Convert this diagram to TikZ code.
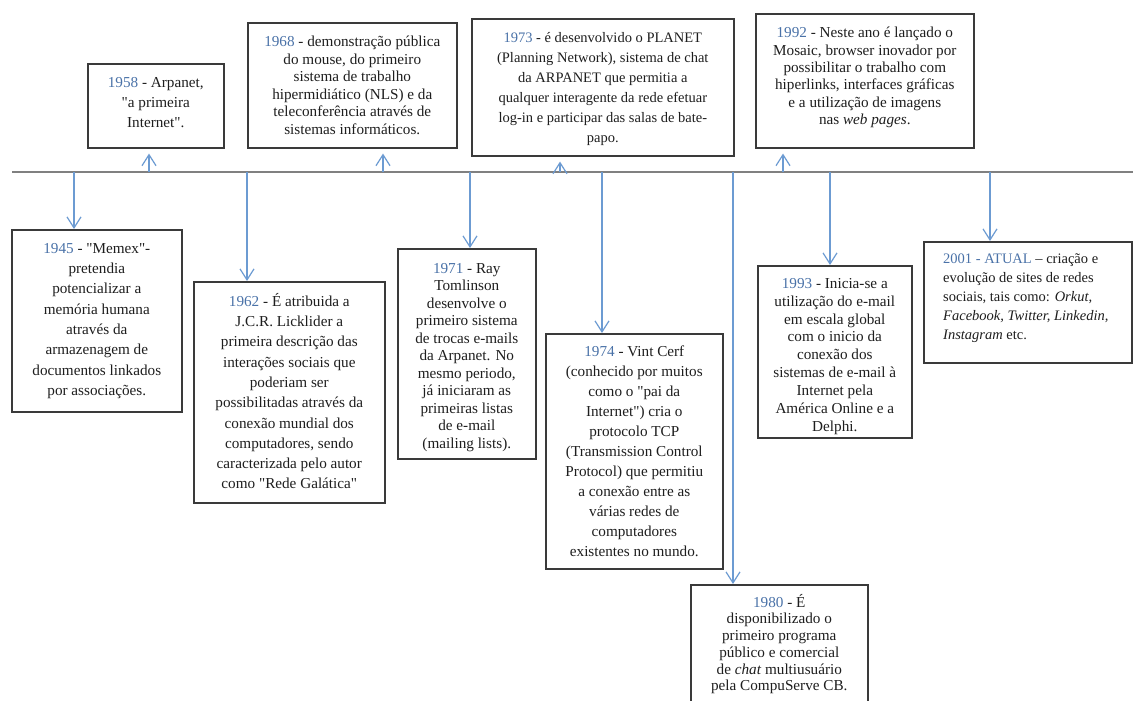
\documentclass[tikz,border=0pt]{standalone}
\usepackage{fontspec}
\newfontfamily\tnr{Liberation Serif}
\usetikzlibrary{arrows.meta}
\definecolor{yr}{HTML}{4A72A8}
\definecolor{arrc}{HTML}{6C9BD2}
\definecolor{tlc}{HTML}{808080}
\definecolor{boxc}{HTML}{3A3A3A}
\definecolor{txtc}{HTML}{1E1E1E}
\begin{document}
\begin{tikzpicture}[x=1pt,y=-1pt,
  box/.style={draw=boxc, line width=1.6pt, fill=white, inner sep=0pt, anchor=north west},
  txt/.style={inner sep=0pt, align=center, text=txtc, anchor=north, font=\tnr\fontsize{15.2}{18.5}\selectfont},
  lsp/.style={font=\tnr\fontsize{15.2}{#1}\selectfont},
  lsps/.style={font=\tnr\fontsize{14.5}{#1}\selectfont},
  arr/.style={draw=arrc, line width=1.2pt, -{Straight Barb[length=11pt,width=14pt,line width=1.2pt]}},
  uparr/.style={arr, shorten >=5pt},
  tline/.style={draw=tlc, line width=2.2pt}]
\clip (0,0) rectangle (1133,701);
\fill[white] (0,0) rectangle (1133,701);

% timeline
\coordinate (tl0) at (12,172);
\coordinate (tl1) at (1133,172);
\draw[tline] (tl0) -- (tl1);

% timeline anchor points
\coordinate (t45) at (74,172);
\coordinate (t58) at (149,172);
\coordinate (t62) at (247,172);
\coordinate (t68) at (383,172);
\coordinate (t71) at (470,172);
\coordinate (t73) at (560,172);
\coordinate (t74) at (602,172);
\coordinate (t80) at (733,172);
\coordinate (t92) at (783,172);
\coordinate (t93) at (830,172);
\coordinate (t01) at (990,172);

% boxes
\node[box, minimum width=170pt, minimum height=182pt] (b45) at (11,229) {};
\node[box, minimum width=136pt, minimum height=84pt]  (b58) at (87,63) {};
\node[box, minimum width=191pt, minimum height=221pt] (b62) at (193,281) {};
\node[box, minimum width=209pt, minimum height=125pt] (b68) at (247,22) {};
\node[box, minimum width=138pt, minimum height=210pt] (b71) at (397,248) {};
\node[box, minimum width=262pt, minimum height=137pt] (b73) at (471,18) {};
\node[box, minimum width=177pt, minimum height=235pt] (b74) at (545,333) {};
\node[box, minimum width=177pt, minimum height=140pt] (b80) at (690,584) {};
\node[box, minimum width=218pt, minimum height=134pt] (b92) at (755,13) {};
\node[box, minimum width=154pt, minimum height=172pt] (b93) at (757,265) {};
\node[box, minimum width=208pt, minimum height=121pt] (b01) at (923,241) {};

% texts
\node[txt, lsp=20.3] (x45) at ([yshift=-14pt]b45.north) {{\color{yr}1945} - "Memex"-\\pretendia\\potencializar a\\memória humana\\através da\\armazenagem de\\documentos linkados\\por associações.};
\node[txt, lsp=20] (x58) at ([yshift=-14pt]b58.north) {{\color{yr}1958} - Arpanet,\\"a primeira\\Internet".};
\node[txt, lsp=20.3] (x62) at ([yshift=-12pt]b62.north) {{\color{yr}1962} - É atribuida a\\J.C.R. Licklider a\\primeira descrição das\\interações sociais que\\poderiam ser\\possibilitadas através da\\conexão mundial dos\\computadores, sendo\\caracterizada pelo autor\\como "Rede Galática"};
\node[txt, lsp=17.5] (x68) at ([yshift=-14pt]b68.north) {{\color{yr}1968} - demonstração pública\\do mouse, do primeiro\\sistema de trabalho\\hipermidiático (NLS) e da\\teleconferência através de\\sistemas informáticos.};
\node[txt, lsp=17.5] (x71) at ([yshift=-15pt]b71.north) {{\color{yr}1971} - Ray\\Tomlinson\\desenvolve o\\primeiro sistema\\de trocas e-mails\\da Arpanet. No\\mesmo periodo,\\já iniciaram as\\primeiras listas\\de e-mail\\(mailing lists).};
\node[txt, lsps=20] (x73) at ([yshift=-14pt]b73.north) {{\color{yr}1973} - é desenvolvido o PLANET\\(Planning Network), sistema de chat\\da ARPANET que permitia a\\qualquer interagente da rede efetuar\\log-in e participar das salas de bate-\\papo.};
\node[txt, lsp=20] (x74) at ([yshift=-13pt]b74.north) {{\color{yr}1974} - Vint Cerf\\(conhecido por muitos\\como o "pai da\\Internet") cria o\\protocolo TCP\\(Transmission Control\\Protocol) que permitiu\\a conexão entre as\\várias redes de\\computadores\\existentes no mundo.};
\node[txt, lsp=16.7] (x80) at ([yshift=-10pt]b80.north) {{\color{yr}1980} - É\\disponibilizado o\\primeiro programa\\público e comercial\\de \textit{chat} multiusuário\\pela CompuServe CB.};
\node[txt, lsp=17.4] (x92) at ([yshift=-14pt]b92.north) {{\color{yr}1992} - Neste ano é lançado o\\Mosaic, browser inovador por\\possibilitar o trabalho com\\hiperlinks, interfaces gráficas\\e a utilização de imagens\\nas \textit{web pages}.};
\node[txt, lsp=17.9] (x93) at ([yshift=-13pt]b93.north) {{\color{yr}1993} - Inicia-se a\\utilização do e-mail\\em escala global\\com o inicio da\\conexão dos\\sistemas de e-mail à\\Internet pela\\América Online e a\\Delphi.};
\node[txt, lsps=19, align=left, anchor=north west] (x01) at ([xshift=20pt,yshift=-13pt]b01.north west) {{\color{yr}2001 - ATUAL} – criação e\\evolução de sites de redes\\sociais, tais como: \textit{Orkut,}\\\textit{Facebook, Twitter, Linkedin,}\\\textit{Instagram} etc.};

% connectors
\draw[arr] (t45) -- (t45 |- b45.north);
\draw[uparr] (t58) -- (t58 |- b58.south);
\draw[arr] (t62) -- (t62 |- b62.north);
\draw[uparr] (t68) -- (t68 |- b68.south);
\draw[arr] (t71) -- (t71 |- b71.north);
\draw[uparr] (t73) -- (t73 |- b73.south);
\draw[arr] (t74) -- (t74 |- b74.north);
\draw[arr] (t80) -- (t80 |- b80.north);
\draw[uparr] (t92) -- (t92 |- b92.south);
\draw[arr] (t93) -- (t93 |- b93.north);
\draw[arr] (t01) -- (t01 |- b01.north);
\end{tikzpicture}
\end{document}
